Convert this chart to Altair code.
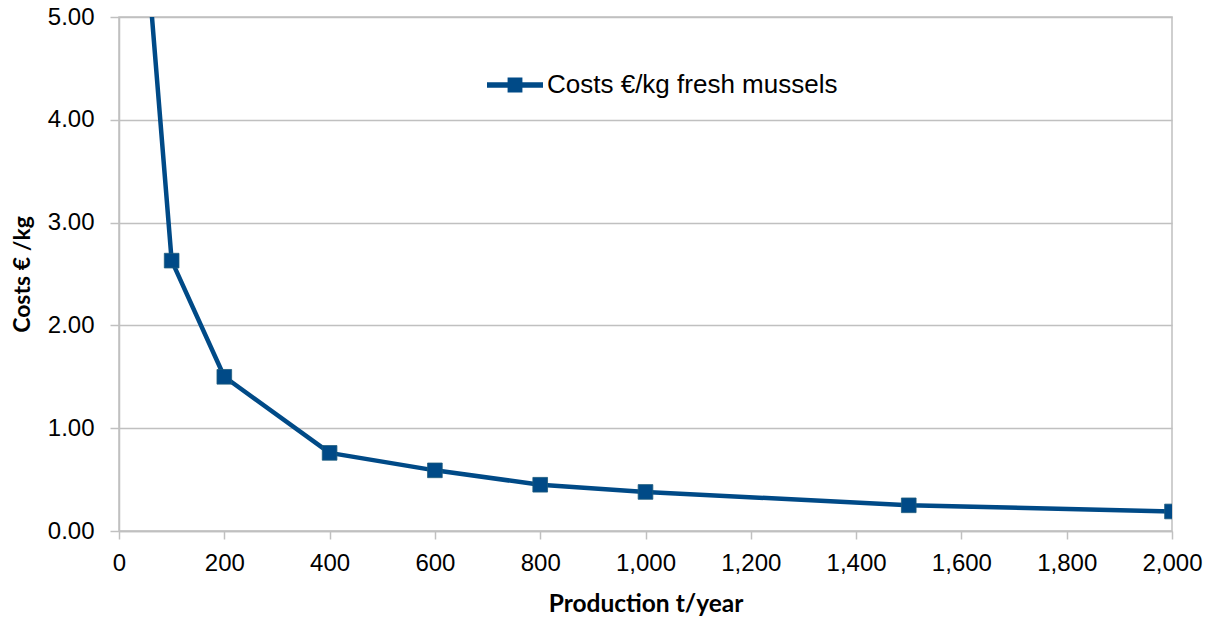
import altair as alt
import pandas as pd

# Production volume (t/year) and resulting cost per kg of fresh mussels
production = [50, 100, 200, 400, 600, 800, 1000, 1500, 2000]
cost_per_kg = [5.8, 2.63, 1.50, 0.76, 0.59, 0.45, 0.38, 0.25, 0.19]
series_name = "Costs €/kg fresh mussels"

df = pd.DataFrame({
    "production": production,
    "cost": cost_per_kg,
    "series": [series_name] * len(production),
})

LINE_COLOR = "#004a87"
GRID_COLOR = "#c0c0c0"

# legend glyph: a short thick line with a square marker in the middle
legend_glyph = (
    "M-1,-0.095L1,-0.095L1,0.095L-1,0.095Z "
    "M-0.265,-0.265L0.265,-0.265L0.265,0.265L-0.265,0.265Z"
)

x_enc = alt.X(
    "production:Q",
    scale=alt.Scale(domain=[0, 2000], nice=False),
    axis=alt.Axis(
        title="Production t/year",
        values=list(range(0, 2001, 200)),
        format=",d",
        grid=False,
        tickSize=8,
        labelPadding=12,
        labelFlush=False,
        labelOverlap=False,
        titleFontSize=24.5,
        titleY=80,
        titleBaseline="alphabetic",
    ),
)
y_enc = alt.Y(
    "cost:Q",
    scale=alt.Scale(domain=[0, 5], nice=False),
    axis=alt.Axis(
        title="Costs € /kg",
        values=[0, 1, 2, 3, 4, 5],
        format=".2f",
        grid=True,
        tickSize=9,
        labelPadding=16,
        labelFlush=False,
        labelOverlap=False,
        titleFontSize=23,
        titleX=-90,
        titleBaseline="alphabetic",
    ),
)

line = alt.Chart(df).mark_line(
    color=LINE_COLOR, strokeWidth=4.5, clip=True, strokeJoin="round"
).encode(x=x_enc, y=y_enc)

points = alt.Chart(df).mark_point(
    shape="square", filled=True, size=215, opacity=1, clip=True,
    stroke="#1d5c7c", strokeWidth=0.8,
).encode(
    x="production:Q",
    y="cost:Q",
    color=alt.Color(
        "series:N",
        scale=alt.Scale(range=[LINE_COLOR]),
        legend=alt.Legend(
            title=None,
            orient="none",
            legendX=368,
            legendY=40,
            symbolType=legend_glyph,
            symbolSize=3136,
            symbolStrokeWidth=0,
            labelOffset=4,
            labelFont="Liberation Sans",
            labelFontSize=26,
            labelColor="#000000",
            labelLimit=600,
            padding=0,
        ),
    ),
)

chart = (
    alt.layer(line, points)
    .properties(
        width=1053,
        height=514,
        autosize=alt.AutoSizeParams(type="none"),
        padding={"left": 119, "top": 17, "right": 46, "bottom": 87},
        background="#ffffff",
    )
    .configure_view(stroke=GRID_COLOR, strokeWidth=1.5)
    .configure_axis(
        domainColor=GRID_COLOR,
        domainWidth=1.5,
        tickColor=GRID_COLOR,
        tickWidth=1.5,
        gridColor=GRID_COLOR,
        gridWidth=1.5,
        labelFont="Liberation Sans",
        labelFontSize=24,
        labelColor="#000000",
        titleFont="Lato",
        titleFontWeight="bold",
        titleColor="#000000",
    )
)

chart.save("out.html", embed_options={"renderer": "svg", "actions": False})
